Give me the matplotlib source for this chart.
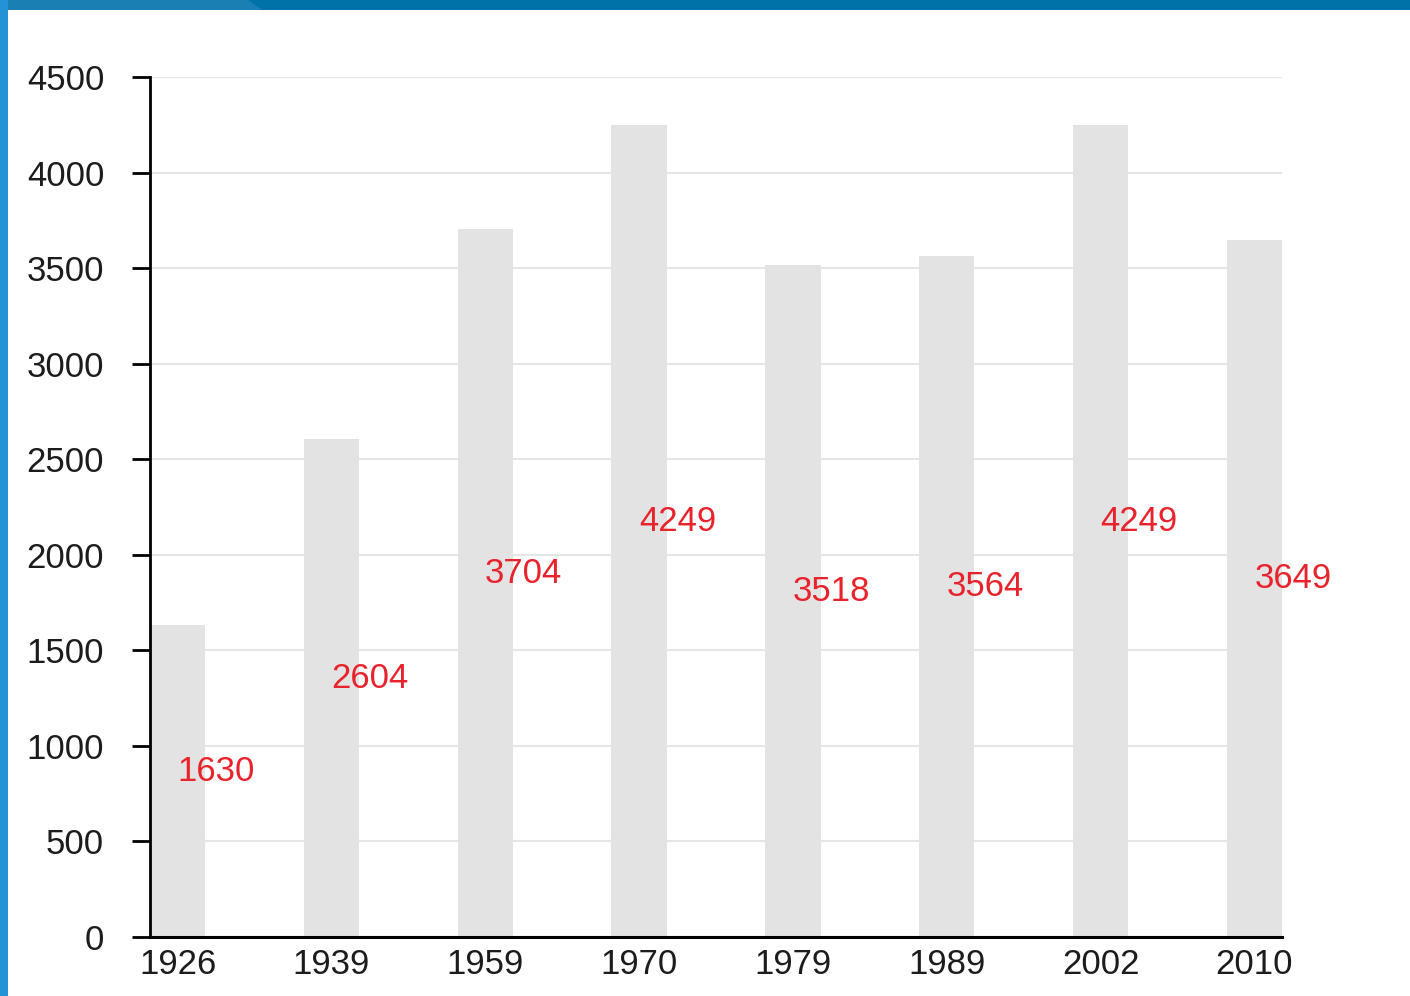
import matplotlib.pyplot as plt
from matplotlib.patches import Rectangle, Polygon

plt.rcParams['font.family'] = ['Liberation Sans', 'DejaVu Sans']

years = ["1926", "1939", "1959", "1970", "1979", "1989", "2002", "2010"]
values = [1630, 2604, 3704, 4249, 3518, 3564, 4249, 3649]
yticks = [0, 500, 1000, 1500, 2000, 2500, 3000, 3500, 4000, 4500]

fig = plt.figure(figsize=(14.1, 9.96), dpi=100)
fig.patch.set_facecolor("white")

# blue frame of the slide
fig.patches.append(Rectangle((0, 1 - 10 / 996), 1, 10 / 996, transform=fig.transFigure,
                             facecolor="#0072a8", edgecolor="none", zorder=0))
fig.patches.append(Polygon([(0, 1), (248 / 1410, 1), (262 / 1410, 1 - 10 / 996), (0, 1 - 10 / 996)],
                           closed=True, transform=fig.transFigure,
                           facecolor="#1a80b4", edgecolor="none", zorder=0))
fig.patches.append(Rectangle((0, 0), 8 / 1410, 1, transform=fig.transFigure,
                             facecolor="#2393d6", edgecolor="none", zorder=0))

ax = fig.add_axes([150 / 1410, 1 - 937 / 996, 1132 / 1410, 860 / 996])

x = list(range(len(years)))
ax.bar(x, values, width=0.36, color="#e3e3e3", zorder=2)

for xi, v in zip(x, values):
    ax.text(xi + 0.25, v / 2, str(v), color="#e8232c", fontsize=25,
            ha="center", va="baseline", zorder=3)

ax.set_xlim(-0.18, 7.18)
ax.set_ylim(0, 4500)
ax.set_yticks(yticks)
ax.set_xticks(x)
ax.set_xticklabels(years)

ax.yaxis.grid(True, color="#e6e6e6", linewidth=1.5, zorder=1)
ax.set_axisbelow(True)

for side in ["top", "right"]:
    ax.spines[side].set_visible(False)
ax.spines["left"].set_linewidth(2)
ax.spines["bottom"].set_linewidth(2.2)

ax.tick_params(axis="y", direction="out", length=13, width=2, pad=20,
               labelsize=25, labelcolor="#1c1c1c")
ax.tick_params(axis="x", length=0, pad=8, labelsize=25, labelcolor="#1c1c1c")

fig.savefig("out.png", dpi=100)
